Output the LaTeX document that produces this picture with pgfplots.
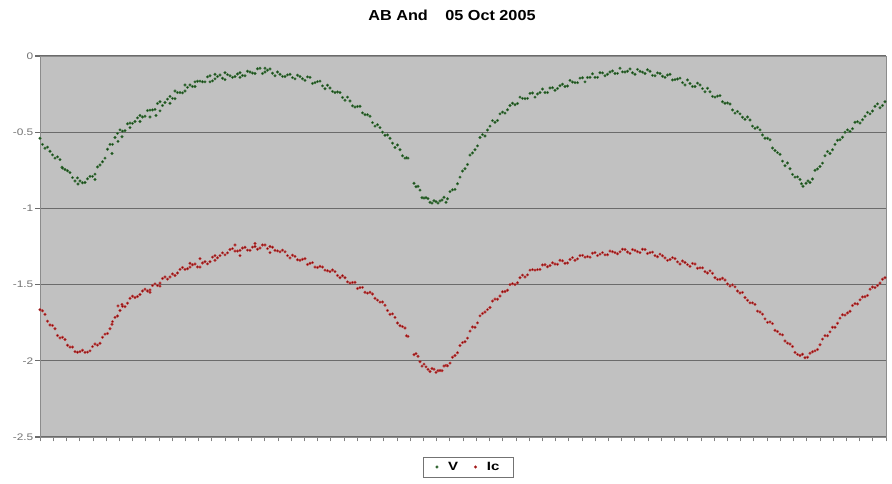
\documentclass[border=0pt]{standalone}
\usepackage{fontspec}
\setmainfont{Liberation Sans}
\newfontfamily\widefont[FakeStretch=1.25]{Liberation Sans}
\newfontfamily\titlefont[FakeStretch=1.12]{Liberation Sans}
\usepackage{pgfplots}
\pgfplotsset{compat=1.18}
\definecolor{plotbg}{RGB}{193,193,193}
\definecolor{vcore}{RGB}{22,60,22}
\definecolor{vhalo}{RGB}{60,120,60}
\definecolor{iccore}{RGB}{120,15,15}
\definecolor{ichalo}{RGB}{200,60,60}

\pgfplotstableread{
x y
40 -0.54
45 -0.605
50 -0.625
55 -0.67
60 -0.68
62 -0.73
65 -0.745
70 -0.765
75 -0.82
78 -0.84
80 -0.82
85 -0.83
90 -0.79
95 -0.775
95 -0.81
100 -0.715
105 -0.67
110 -0.58
112 -0.64
115 -0.535
118 -0.56
120 -0.485
122 -0.53
125 -0.49
130 -0.44
130 -0.47
135 -0.43
140 -0.39
140 -0.43
145 -0.395
150 -0.355
150 -0.40
155 -0.35
156 -0.39
160 -0.30
160 -0.36
165 -0.305
170 -0.265
170 -0.31
175 -0.28
175 -0.23
180 -0.24
185 -0.23
185 -0.19
190 -0.19
195 -0.20
195 -0.17
200 -0.165
205 -0.17
210 -0.13
210 -0.17
215 -0.15
215 -0.12
220 -0.125
225 -0.155
225 -0.11
230 -0.13
235 -0.135
240 -0.11
240 -0.14
245 -0.13
250 -0.105
255 -0.115
260 -0.08
265 -0.105
265 -0.08
270 -0.085
275 -0.13
280 -0.12
285 -0.135
290 -0.12
295 -0.15
300 -0.135
305 -0.16
310 -0.14
315 -0.175
320 -0.165
325 -0.215
330 -0.21
335 -0.24
340 -0.24
345 -0.29
350 -0.295
355 -0.335
360 -0.33
365 -0.385
370 -0.395
375 -0.46
380 -0.47
385 -0.52
390 -0.54
395 -0.60
400 -0.615
405 -0.67
408 -0.67
414 -0.835
418 -0.855
422 -0.93
426 -0.93
430 -0.96
434 -0.95
438 -0.965
442 -0.945
446 -0.96
450 -0.89
455 -0.875
460 -0.795
465 -0.74
470 -0.65
475 -0.615
480 -0.535
485 -0.525
490 -0.46
495 -0.435
500 -0.38
505 -0.375
510 -0.325
515 -0.32
520 -0.27
525 -0.28
530 -0.245
535 -0.27
540 -0.24
545 -0.24
550 -0.21
555 -0.225
560 -0.195
565 -0.20
570 -0.16
575 -0.175
580 -0.145
585 -0.17
590 -0.14
595 -0.14
600 -0.11
605 -0.13
610 -0.105
615 -0.115
620 -0.08
625 -0.105
630 -0.085
635 -0.12
640 -0.10
645 -0.115
650 -0.10
655 -0.13
660 -0.115
665 -0.14
670 -0.12
675 -0.155
680 -0.145
685 -0.19
690 -0.18
695 -0.20
700 -0.19
705 -0.235
710 -0.235
715 -0.27
720 -0.26
725 -0.31
730 -0.315
735 -0.375
740 -0.38
745 -0.415
750 -0.42
755 -0.475
760 -0.485
765 -0.54
770 -0.55
775 -0.62
780 -0.645
785 -0.72
790 -0.74
795 -0.795
800 -0.81
803 -0.855
806 -0.835
810 -0.83
815 -0.75
820 -0.725
825 -0.655
830 -0.64
835 -0.58
840 -0.55
845 -0.50
850 -0.495
855 -0.435
860 -0.44
865 -0.395
870 -0.38
875 -0.33
880 -0.34
885 -0.30
}\Vdata

\pgfplotstableread{
x y
42.5 -0.58
47.5 -0.598
52.5 -0.649
57.5 -0.662
62.5 -0.735
67.5 -0.753
72.5 -0.798
77.5 -0.80
82.5 -0.832
87.5 -0.806
92.5 -0.79
97.5 -0.728
102.5 -0.694
107.5 -0.612
112.5 -0.58
117.5 -0.508
122.5 -0.493
127.5 -0.445
132.5 -0.442
137.5 -0.406
142.5 -0.40
147.5 -0.358
152.5 -0.354
157.5 -0.312
162.5 -0.325
167.5 -0.283
172.5 -0.278
177.5 -0.24
182.5 -0.242
187.5 -0.206
192.5 -0.20
197.5 -0.166
202.5 -0.169
207.5 -0.137
212.5 -0.163
217.5 -0.135
222.5 -0.146
227.5 -0.122
232.5 -0.14
237.5 -0.118
242.5 -0.128
247.5 -0.10
252.5 -0.112
257.5 -0.084
262.5 -0.115
267.5 -0.093
272.5 -0.113
277.5 -0.105
282.5 -0.134
287.5 -0.124
292.5 -0.142
297.5 -0.126
302.5 -0.149
307.5 -0.137
312.5 -0.18
317.5 -0.168
322.5 -0.196
327.5 -0.192
332.5 -0.232
337.5 -0.236
342.5 -0.272
347.5 -0.27
352.5 -0.327
357.5 -0.331
362.5 -0.373
367.5 -0.385
372.5 -0.437
377.5 -0.451
382.5 -0.50
387.5 -0.518
392.5 -0.572
397.5 -0.584
402.5 -0.655
406.5 -0.668
416 -0.858
420 -0.88
424 -0.932
428 -0.936
432 -0.965
436 -0.956
440 -0.951
444 -0.927
447.5 -0.937
452.5 -0.878
457.5 -0.838
462.5 -0.755
467.5 -0.712
472.5 -0.636
477.5 -0.59
482.5 -0.516
487.5 -0.486
492.5 -0.424
497.5 -0.423
502.5 -0.368
507.5 -0.353
512.5 -0.31
517.5 -0.312
522.5 -0.278
527.5 -0.278
532.5 -0.243
537.5 -0.249
542.5 -0.217
547.5 -0.24
552.5 -0.208
557.5 -0.213
562.5 -0.185
567.5 -0.197
572.5 -0.171
577.5 -0.175
582.5 -0.143
587.5 -0.141
592.5 -0.117
597.5 -0.14
602.5 -0.111
607.5 -0.12
612.5 -0.098
617.5 -0.114
622.5 -0.104
627.5 -0.10
632.5 -0.11
637.5 -0.088
642.5 -0.106
647.5 -0.09
652.5 -0.127
657.5 -0.111
662.5 -0.133
667.5 -0.125
672.5 -0.157
677.5 -0.151
682.5 -0.175
687.5 -0.157
692.5 -0.20
697.5 -0.178
702.5 -0.214
707.5 -0.212
712.5 -0.265
717.5 -0.263
722.5 -0.30
727.5 -0.308
732.5 -0.354
737.5 -0.364
742.5 -0.402
747.5 -0.40
752.5 -0.46
757.5 -0.468
762.5 -0.518
767.5 -0.54
772.5 -0.604
777.5 -0.634
782.5 -0.69
787.5 -0.702
792.5 -0.777
797.5 -0.793
801.5 -0.838
808 -0.82
812.5 -0.807
817.5 -0.741
822.5 -0.703
827.5 -0.627
832.5 -0.615
837.5 -0.553
842.5 -0.533
847.5 -0.485
852.5 -0.477
857.5 -0.431
862.5 -0.418
867.5 -0.37
872.5 -0.361
877.5 -0.314
882.5 -0.325
887 -0.286
}\Vextra

\pgfplotstableread{
x y
40 -1.665
45 -1.695
50 -1.765
55 -1.79
60 -1.85
65 -1.86
70 -1.91
75 -1.94
80 -1.94
85 -1.945
90 -1.935
95 -1.89
100 -1.885
105 -1.825
110 -1.79
112 -1.76
115 -1.715
118 -1.64
120 -1.67
122 -1.63
125 -1.645
130 -1.59
135 -1.585
140 -1.565
145 -1.53
150 -1.535
150 -1.55
155 -1.495
160 -1.49
160 -1.51
165 -1.45
170 -1.45
175 -1.44
180 -1.40
185 -1.40
190 -1.385
190 -1.36
195 -1.365
200 -1.385
200 -1.33
205 -1.35
210 -1.35
215 -1.31
215 -1.34
220 -1.31
225 -1.305
230 -1.27
235 -1.28
235 -1.24
240 -1.275
240 -1.31
245 -1.255
250 -1.275
255 -1.25
255 -1.23
260 -1.26
265 -1.24
270 -1.25
270 -1.29
275 -1.275
280 -1.285
285 -1.285
290 -1.325
295 -1.315
300 -1.34
305 -1.33
310 -1.36
315 -1.385
320 -1.38
325 -1.405
330 -1.415
335 -1.415
340 -1.455
345 -1.455
350 -1.49
355 -1.485
360 -1.52
365 -1.55
370 -1.55
375 -1.59
380 -1.615
385 -1.635
390 -1.695
395 -1.715
400 -1.77
405 -1.785
408 -1.84
414 -1.96
418 -1.97
422 -2.035
426 -2.04
430 -2.07
434 -2.055
438 -2.065
442 -2.065
446 -2.03
450 -2.015
455 -1.965
460 -1.90
465 -1.875
470 -1.805
475 -1.78
480 -1.705
485 -1.68
490 -1.65
495 -1.595
500 -1.575
505 -1.545
510 -1.50
515 -1.50
520 -1.455
525 -1.45
530 -1.405
535 -1.405
540 -1.40
545 -1.37
550 -1.375
555 -1.365
560 -1.34
565 -1.36
570 -1.335
575 -1.34
580 -1.31
585 -1.32
590 -1.32
595 -1.29
600 -1.30
605 -1.305
610 -1.28
615 -1.29
620 -1.285
625 -1.27
630 -1.295
635 -1.275
640 -1.29
645 -1.27
650 -1.29
655 -1.31
660 -1.30
665 -1.325
670 -1.335
675 -1.33
680 -1.365
685 -1.355
690 -1.38
695 -1.365
700 -1.39
705 -1.415
710 -1.41
715 -1.455
720 -1.465
725 -1.47
730 -1.51
735 -1.515
740 -1.555
745 -1.585
750 -1.62
755 -1.63
760 -1.68
765 -1.725
770 -1.745
775 -1.80
780 -1.825
785 -1.87
790 -1.89
795 -1.945
800 -1.965
805 -1.98
810 -1.95
815 -1.935
820 -1.895
825 -1.835
830 -1.81
835 -1.78
840 -1.72
845 -1.70
850 -1.675
855 -1.625
860 -1.60
865 -1.58
870 -1.53
875 -1.52
880 -1.49
885 -1.455
}\Icdata

\pgfplotstableread{
x y
42.5 -1.672
47.5 -1.74
52.5 -1.768
57.5 -1.834
62.5 -1.846
67.5 -1.898
72.5 -1.91
77.5 -1.944
82.5 -1.931
87.5 -1.943
92.5 -1.907
97.5 -1.897
102.5 -1.846
107.5 -1.821
112.5 -1.743
117.5 -1.706
122.5 -1.642
127.5 -1.622
132.5 -1.576
137.5 -1.578
142.5 -1.542
147.5 -1.542
152.5 -1.506
157.5 -1.506
162.5 -1.46
167.5 -1.464
172.5 -1.43
177.5 -1.424
182.5 -1.388
187.5 -1.396
192.5 -1.37
197.5 -1.384
202.5 -1.358
207.5 -1.364
212.5 -1.32
217.5 -1.324
222.5 -1.292
227.5 -1.292
232.5 -1.264
237.5 -1.28
242.5 -1.26
247.5 -1.274
252.5 -1.254
257.5 -1.268
262.5 -1.24
267.5 -1.264
272.5 -1.255
277.5 -1.279
282.5 -1.274
287.5 -1.31
292.5 -1.307
297.5 -1.337
302.5 -1.334
307.5 -1.368
312.5 -1.356
317.5 -1.388
322.5 -1.385
327.5 -1.409
332.5 -1.404
337.5 -1.44
342.5 -1.442
347.5 -1.482
352.5 -1.486
357.5 -1.526
362.5 -1.518
367.5 -1.556
372.5 -1.562
377.5 -1.602
382.5 -1.614
387.5 -1.67
392.5 -1.692
397.5 -1.752
402.5 -1.776
406.5 -1.836
416 -1.953
420 -2.006
424 -2.022
428 -2.056
432 -2.051
436 -2.076
440 -2.064
444 -2.034
447.5 -2.033
452.5 -1.977
457.5 -1.947
462.5 -1.881
467.5 -1.851
472.5 -1.778
477.5 -1.751
482.5 -1.69
487.5 -1.664
492.5 -1.608
497.5 -1.596
502.5 -1.547
507.5 -1.537
512.5 -1.494
517.5 -1.488
522.5 -1.438
527.5 -1.436
532.5 -1.402
537.5 -1.402
542.5 -1.371
547.5 -1.383
552.5 -1.357
557.5 -1.367
562.5 -1.344
567.5 -1.358
572.5 -1.323
577.5 -1.331
582.5 -1.308
587.5 -1.316
592.5 -1.294
597.5 -1.31
602.5 -1.29
607.5 -1.304
612.5 -1.284
617.5 -1.298
622.5 -1.268
627.5 -1.286
632.5 -1.27
637.5 -1.284
642.5 -1.268
647.5 -1.296
652.5 -1.287
657.5 -1.317
662.5 -1.311
667.5 -1.341
672.5 -1.323
677.5 -1.351
682.5 -1.345
687.5 -1.369
692.5 -1.361
697.5 -1.393
702.5 -1.39
707.5 -1.424
712.5 -1.426
717.5 -1.466
722.5 -1.458
727.5 -1.496
732.5 -1.502
737.5 -1.542
742.5 -1.551
747.5 -1.603
752.5 -1.62
757.5 -1.674
762.5 -1.694
767.5 -1.748
772.5 -1.756
777.5 -1.808
782.5 -1.83
787.5 -1.884
792.5 -1.906
797.5 -1.958
802.5 -1.957
807.5 -1.977
812.5 -1.941
817.5 -1.926
822.5 -1.858
827.5 -1.836
832.5 -1.78
837.5 -1.754
842.5 -1.698
847.5 -1.686
852.5 -1.637
857.5 -1.627
862.5 -1.581
867.5 -1.571
872.5 -1.516
877.5 -1.506
882.5 -1.465
887 -1.454
}\Icextra

\begin{document}
\begin{tikzpicture}[x=1pt,y=1pt]
\path[use as bounding box, fill=white] (0,0) rectangle (892,484);
\node[font=\titlefont\bfseries\fontsize{14.5}{16}\selectfont] at (452,469) {AB And\hspace{1.2em}05 Oct 2005};
\begin{axis}[
  at={(40pt,47pt)}, anchor=south west,
  scale only axis, width=846pt, height=381pt,
  xmin=40, xmax=886, ymin=-2.5, ymax=0,
  axis background/.style={fill=plotbg},
  axis line style={black!45, line width=0.8pt},
  ytick={-2.5,-2,-1.5,-1,-0.5,0},
  yticklabels={-2.5,-2,-1.5,-1,-0.5,0},
  yticklabel style={font=\widefont\fontsize{9.5}{10}\selectfont, text=black!55, inner xsep=2pt},
  ymajorgrids,
  grid style={black!58, line width=1.1pt},
  xtick={40,53.21875,...,886},
  xticklabels={},
  xtick pos=bottom,
  ytick pos=left,
  tick align=outside,
  major tick length=4.5pt,
  tick style={black!50, line width=0.7pt},
  ytick style={black!58, line width=1.1pt},
  legend style={at={(0.5065,-0.0787)}, anchor=center, legend columns=2,
    draw=black!55, line width=0.6pt, font=\widefont\bfseries\fontsize{12}{13}\selectfont,
    /tikz/every odd column/.append style={column sep=8pt},
    /tikz/every even column/.append style={column sep=14pt},
    inner xsep=12pt, inner ysep=3pt},
  legend cell align=left,
]
\addplot[only marks, mark=*, mark size=1.3pt, mark options={draw=vhalo, fill=vcore, line width=0.4pt}] table[x=x,y=y] {\Vdata};
\addlegendentry{V}
\addplot[only marks, mark=*, mark size=1.3pt, mark options={draw=ichalo, fill=iccore, line width=0.4pt}] table[x=x,y=y] {\Icdata};
\addlegendentry{Ic}
\addplot[forget plot, only marks, mark=*, mark size=1.3pt, mark options={draw=vhalo, fill=vcore, line width=0.4pt}] table[x=x,y=y] {\Vextra};
\addplot[forget plot, only marks, mark=*, mark size=1.3pt, mark options={draw=ichalo, fill=iccore, line width=0.4pt}] table[x=x,y=y] {\Icextra};
\end{axis}
\end{tikzpicture}
\end{document}
